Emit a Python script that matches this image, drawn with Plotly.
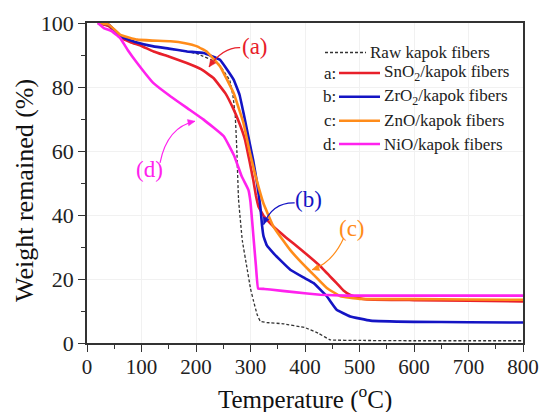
import plotly.graph_objects as go

# ---------------- data ----------------
raw_x = [20, 40, 60, 80, 110, 150, 200, 240, 262, 268, 272, 275, 278, 285, 293, 300, 305, 312, 318, 330, 360, 400, 425, 446, 500, 600, 700, 800]
raw_y = [100, 99.5, 96.5, 94.5, 93, 92, 90.5, 87.5, 82, 77, 71, 60, 45, 32, 24, 17, 13.5, 9, 6.8, 6.4, 6.0, 4.8, 3.0, 1.0, 0.8, 0.7, 0.7, 0.7]

sno2_x = [20, 40, 61, 80, 100, 122, 150, 183, 210, 232, 254, 269, 280, 290, 298, 305, 310, 315, 325, 342, 365, 394, 428, 445, 458, 470, 483, 500, 514, 600, 700, 800]
sno2_y = [100, 99, 95.5, 94, 92.8, 91.1, 89.5, 87.5, 85.5, 82.8, 78, 73, 68.5, 63.5, 57, 51, 46, 42.5, 39.5, 36.4, 33, 29, 24, 21, 18.7, 16.5, 15, 14, 13.6, 13.4, 13.2, 13.0]

zro2_x = [20, 40, 61, 90, 122, 150, 184, 214, 244, 269, 280, 287, 293, 299, 305, 312, 318, 321, 324, 330, 342, 357, 373, 397, 416, 440, 458, 483, 520, 600, 700, 800]
zro2_y = [100, 99.5, 95.8, 94, 92.7, 92, 91.1, 90.6, 88.5, 82.3, 77.5, 72, 67, 62, 57, 50, 42.7, 37, 33.3, 30.5, 28.1, 25.5, 22.9, 20.5, 18.7, 14.6, 10.4, 8.3, 7.0, 6.6, 6.5, 6.4]

zno_x = [20, 40, 61, 92, 120, 153, 180, 202, 220, 244, 269, 287, 299, 308, 316, 324, 342, 360, 373, 400, 416, 440, 465, 500, 600, 700, 800]
zno_y = [100, 99.5, 96.3, 94.8, 94.5, 94.3, 93.7, 92.7, 91, 86.5, 78.1, 68.8, 59.4, 53, 48, 43.5, 36.4, 32, 29, 24, 21.3, 17.2, 14.6, 13.8, 13.7, 13.6, 13.5]

nio_x = [20, 31, 45, 61, 75, 92, 122, 153, 184, 214, 251, 270, 284, 296, 300, 306, 310, 314, 325, 336, 380, 428, 477, 600, 700, 800]
nio_y = [100, 98.4, 97.5, 95.3, 91.5, 87.5, 81.2, 77.1, 73.4, 69.8, 64.6, 58.5, 52, 47.9, 44, 32, 24, 17, 16.9, 16.7, 15.9, 15.1, 14.8, 14.8, 14.8, 14.8]

x_ticks = [0, 100, 200, 300, 400, 500, 600, 700, 800]
y_ticks = [0, 20, 40, 60, 80, 100]

legend_names = ["Raw kapok fibers", "SnO<sub>2</sub>/kapok fibers", "ZrO<sub>2</sub>/kapok fibers",
                "ZnO/kapok fibers", "NiO/kapok fibers"]
legend_keys = ["", "a:", "b:", "c:", "d:"]

# ---------------- styles ----------------
FONT = "Liberation Serif"
RED, BLUE, ORANGE, MAGENTA, GRAY = "#e8202a", "#1414c4", "#ff8c1a", "#ff22ee", "#333333"

fig = go.Figure()
series = [
    (raw_x, raw_y, GRAY, 1.3, "3px,2px"),
    (sno2_x, sno2_y, RED, 2.6, "solid"),
    (zro2_x, zro2_y, BLUE, 2.6, "solid"),
    (zno_x, zno_y, ORANGE, 2.6, "solid"),
    (nio_x, nio_y, MAGENTA, 2.6, "solid"),
]
for (xs, ys, c, w, d), name in zip(series, legend_names):
    fig.add_trace(go.Scatter(x=xs, y=ys, mode="lines", name=name,
                             line=dict(color=c, width=w, dash=d, shape="spline", smoothing=0.25),
                             showlegend=False))

# Plot area in pixels
L, R, T, B = 87, 17, 23, 69
W, H = 540, 412
PW, PH = W - L - R, H - T - B
SX, SY = 800 / PW, 100 / PH   # data units per pixel

def px2paper(px, py):
    return (px - L) / PW, (H - B - py) / PH

# ---------------- custom legend ----------------
row_y = [52.5, 73.0, 96.7, 120.7, 144.0]
shapes = []
annotations = []
for i, (key, name) in enumerate(zip(legend_keys, legend_names)):
    c = series[i][2]
    if i == 0:
        x0, x1 = 325, 366
    else:
        x0, x1 = 339, 380
    xa, ya = px2paper(x0, row_y[i])
    xb, _ = px2paper(x1, row_y[i])
    shapes.append(dict(type="line", xref="paper", yref="paper", x0=xa, x1=xb, y0=ya, y1=ya,
                       line=dict(color=c, width=(1.3 if i == 0 else 2.4), dash=("3px,2px" if i == 0 else "solid"))))
    tx, ty = px2paper(x1 + 2, row_y[i])
    annotations.append(dict(xref="paper", yref="paper", x=tx, y=ty, text=name, showarrow=False,
                            xanchor="left", yanchor="middle", font=dict(family=FONT, size=17, color="#222")))
    if key:
        kx, ky = px2paper(x0 - 1, row_y[i])
        annotations.append(dict(xref="paper", yref="paper", x=kx, y=ky, text=key, showarrow=False,
                                xanchor="right", yanchor="middle", font=dict(family=FONT, size=17, color="#222")))

# ---------------- curve labels with curved arrows ----------------
labels = [
    ("(a)", (308, 92.7), (281, 92.3), (250, 92.5), (224, 86.3), RED),
    ("(b)", (407, 45.0), (381, 43.8), (340, 44.0), (324, 37.0), BLUE),
    ("(c)", (486, 35.7), (471, 32.8), (450, 25.0), (413, 22.9), ORANGE),
    ("(d)", (114, 54.2), (134, 56.3), (147, 67.5), (198, 69.3), MAGENTA),
]
for txt, (tx, ty), (sx, sy), (cx, cy), (ex, ey), col in labels:
    annotations.append(dict(x=tx, y=ty, text=txt, showarrow=False, font=dict(family=FONT, size=23, color=col)))
    shapes.append(dict(type="path", xref="x", yref="y",
                       path=f"M {sx},{sy} Q {cx},{cy} {ex},{ey}", line=dict(color=col, width=1.2)))
    # arrow head as a small filled triangle (pixel geometry converted to data units)
    dxp, dyp = (ex - cx) / SX, (ey - cy) / SY
    n = (dxp ** 2 + dyp ** 2) ** 0.5
    ux, uy = dxp / n, dyp / n
    bx, by = -ux * 7, -uy * 7
    pxn, pyn = -uy * 3.2, ux * 3.2
    p1 = (ex + (bx + pxn) * SX, ey + (by + pyn) * SY)
    p2 = (ex + (bx - pxn) * SX, ey + (by - pyn) * SY)
    shapes.append(dict(type="path", xref="x", yref="y",
                       path=f"M {ex},{ey} L {p1[0]},{p1[1]} L {p2[0]},{p2[1]} Z",
                       fillcolor=col, line=dict(color=col, width=0.5)))

# axis titles as annotations (precise placement)
tx, ty = px2paper(305, 397)
annotations.append(dict(xref="paper", yref="paper", x=tx, y=ty, text="Temperature (<sup>o</sup>C)",
                        showarrow=False, xanchor="center", yanchor="middle",
                        font=dict(family=FONT, size=25, color="#111")))
tx, ty = px2paper(24, 191)
annotations.append(dict(xref="paper", yref="paper", x=tx, y=ty, text="Weight remained (%)",
                        showarrow=False, xanchor="center", yanchor="middle", textangle=-90,
                        font=dict(family=FONT, size=26, color="#111")))

axis_common = dict(showline=True, linecolor=GRAY, linewidth=1.5, mirror=True,
                   ticks="outside", tickcolor=GRAY, tickwidth=1.3, ticklen=7,
                   showgrid=True, gridcolor="#f1f1f1", gridwidth=1, zeroline=False,
                   automargin=False)

fig.update_layout(
    width=W, height=H,
    margin=dict(l=L, r=R, t=T, b=B),
    paper_bgcolor="white", plot_bgcolor="white",
    shapes=shapes, annotations=annotations,
    xaxis=dict(range=[0, 800], tickvals=x_ticks,
               minor=dict(ticks="outside", ticklen=4, tickcolor=GRAY, dtick=50, showgrid=False),
               tickfont=dict(family=FONT, size=21, color="#222"), ticklabelstandoff=-3,
               **axis_common),
    yaxis=dict(range=[0, 100], tickvals=y_ticks,
               minor=dict(ticks="outside", ticklen=4, tickcolor=GRAY, dtick=10, showgrid=False),
               tickfont=dict(family=FONT, size=22, color="#222"),
               **axis_common),
)

fig.write_html("out.html", config={"displayModeBar": False},
               post_script="document.body.style.margin='0';document.body.style.overflow='hidden';")
